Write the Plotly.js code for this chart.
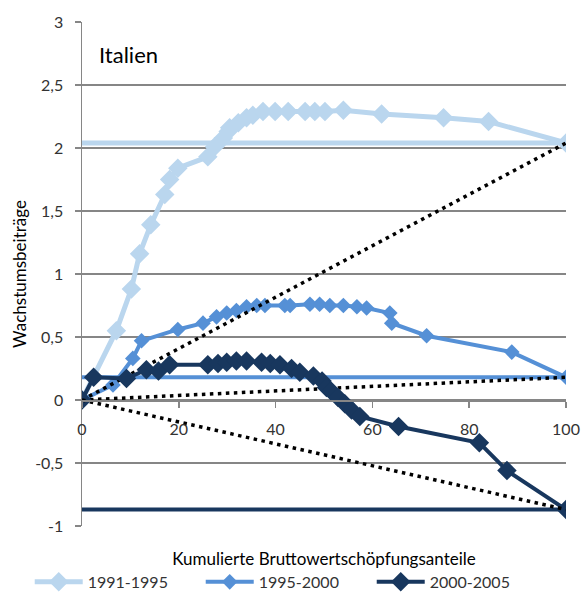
<!DOCTYPE html>
<html>
<head>
<meta charset="utf-8">
<script src="https://cdn.plot.ly/plotly-3.0.1.min.js"></script>
<style>html,body{margin:0;padding:0;background:#fff;}#chart{width:584px;height:592px;}</style>
</head>
<body>
<div id="chart"></div>
<script>
// Series names
const seriesNames = ['1991-1995', '1995-2000', '2000-2005'];

// 1991-1995
const x1991 = [0, 7.1, 10.2, 11.9, 14.2, 17.1, 18.1, 19.8, 26.0, 27.4, 29.2, 30.2, 30.5, 32.3, 34.0, 35.3, 37.4, 39.9, 42.6, 46.1, 48.1, 50.2, 54.0, 61.9, 74.7, 84.0, 100];
const y1991 = [0, 0.55, 0.88, 1.16, 1.39, 1.63, 1.75, 1.84, 1.93, 2.01, 2.08, 2.13, 2.16, 2.20, 2.24, 2.26, 2.29, 2.29, 2.29, 2.29, 2.29, 2.29, 2.30, 2.27, 2.24, 2.21, 2.04];

// 1995-2000
const x1995 = [0, 6.4, 10.5, 12.3, 19.8, 25.0, 27.8, 29.9, 31.9, 34.0, 36.1, 37.8, 41.9, 43.0, 47.1, 49.1, 51.2, 54.0, 56.8, 58.8, 63.6, 64.0, 71.2, 88.8, 100];
const y1995 = [0, 0.12, 0.33, 0.47, 0.56, 0.61, 0.66, 0.69, 0.71, 0.74, 0.75, 0.75, 0.75, 0.75, 0.76, 0.76, 0.75, 0.75, 0.74, 0.73, 0.69, 0.61, 0.51, 0.38, 0.18];

// 2000-2005
const x2000 = [0, 2.4, 9.2, 13.3, 15.8, 18.1, 26.0, 28.1, 29.9, 31.9, 34.0, 37.1, 38.9, 40.9, 43.3, 45.0, 47.8, 49.6, 50.5, 51.5, 52.9, 54.3, 55.7, 57.4, 65.4, 82.1, 87.8, 100];
const y2000 = [0, 0.18, 0.17, 0.24, 0.23, 0.28, 0.28, 0.29, 0.30, 0.31, 0.31, 0.30, 0.29, 0.28, 0.25, 0.22, 0.19, 0.15, 0.10, 0.07, 0.02, -0.03, -0.08, -0.13, -0.21, -0.34, -0.56, -0.87];

// Axis ticks
const yTickVals = [-1, -0.5, 0, 0.5, 1, 1.5, 2, 2.5, 3];
const yTickText = ['-1', '-0,5', '0', '0,5', '1', '1,5', '2', '2,5', '3'];
const xTickVals = [0, 20, 40, 60, 80, 100];

const colors = ['#BAD6EE', '#5590D6', '#18375E'];
const FONT = 'Lato, "Open Sans", sans-serif';

function last(a) { return a[a.length - 1]; }

function series(x, y, i, size, width) {
  return {
    x: x, y: y, type: 'scatter', mode: 'lines+markers', name: seriesNames[i],
    line: {color: colors[i], width: width},
    marker: {symbol: 'diamond', size: size, color: colors[i]},
    hoverinfo: 'skip'
  };
}
function hline(x, y, i, w) {
  return {
    x: [x[0], last(x)], y: [last(y), last(y)], type: 'scatter', mode: 'lines',
    line: {color: colors[i], width: w}, showlegend: false, hoverinfo: 'skip'
  };
}
function chord(x, y) {
  return {
    x: [x[0], last(x)], y: [y[0], last(y)], type: 'scatter', mode: 'lines',
    line: {color: '#000', width: 3.5, dash: '3.5px,4.5px'}, showlegend: false, hoverinfo: 'skip'
  };
}

const data = [
  series(x1991, y1991, 0, 15, 5),
  hline(x1991, y1991, 0, 5),
  series(x1995, y1995, 1, 12, 4),
  chord(x1991, y1991),
  hline(x1995, y1995, 1, 4),
  chord(x1995, y1995),
  series(x2000, y2000, 2, 15, 4),
  hline(x2000, y2000, 2, 4),
  chord(x2000, y2000)
];

const layout = {
  width: 584, height: 592,
  margin: {l: 82, r: 18, t: 22, b: 66, autoexpand: false},
  paper_bgcolor: '#fff', plot_bgcolor: '#fff',
  font: {family: FONT, size: 16, color: '#333'},
  showlegend: true,
  legend: {
    orientation: 'h', x: -0.108, xanchor: 'left', y: -0.111, yanchor: 'middle',
    font: {family: FONT, size: 16, color: '#333'},
    itemwidth: 48, entrywidth: 108, entrywidthmode: 'pixels',
    traceorder: 'normal', bgcolor: 'rgba(0,0,0,0)'
  },
  xaxis: {
    range: [0, 100], tickvals: xTickVals, showgrid: false, zeroline: false,
    showline: true, linecolor: '#868686', linewidth: 1.5,
    ticks: 'outside', ticklen: 6, tickcolor: '#868686', tickwidth: 1.5,
    anchor: 'free', position: 0.25, ticklabelstandoff: 8, automargin: false,
    tickfont: {family: FONT, size: 16, color: '#333'},
    title: {text: 'Kumulierte Bruttowertschöpfungsanteile', font: {family: FONT, size: 17, color: '#000'}, standoff: 116}
  },
  yaxis: {
    range: [-1, 3], tickvals: yTickVals, ticktext: yTickText,
    showgrid: true, gridcolor: '#868686', gridwidth: 1.5, zeroline: false,
    showline: true, linecolor: '#868686', linewidth: 1.5,
    ticks: 'outside', ticklen: 6, tickcolor: '#868686', tickwidth: 1.5,
    ticklabelstandoff: 8, automargin: false,
    tickfont: {family: FONT, size: 16, color: '#333'},
    title: {text: 'Wachstumsbeiträge', font: {family: FONT, size: 17, color: '#000'}, standoff: 4}
  },
  annotations: [{
    text: 'Italien', xref: 'paper', yref: 'paper', x: 0.03, y: 0.935,
    xanchor: 'left', yanchor: 'middle', showarrow: false,
    font: {family: FONT, size: 22, color: '#000'}
  }]
};

Plotly.newPlot('chart', data, layout, {displayModeBar: false, staticPlot: true});
</script>
</body>
</html>
